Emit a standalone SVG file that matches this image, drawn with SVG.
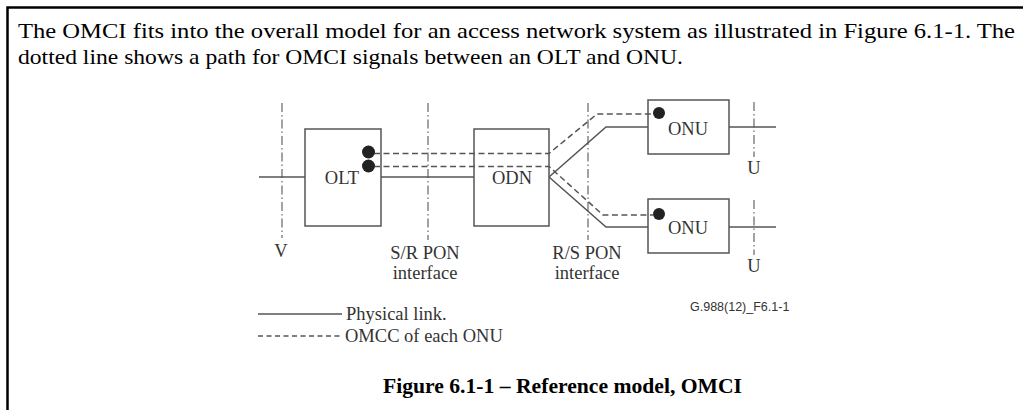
<svg xmlns="http://www.w3.org/2000/svg" width="1023" height="410" viewBox="0 0 1023 410">
<style>
.frame{fill:none;stroke:#000;stroke-width:2.5}
.para{font-family:"Liberation Serif",serif;font-size:21px;fill:#000}
.box{fill:#fff;stroke:#555;stroke-width:1.5}
.lbl{font-family:"Liberation Serif",serif;font-size:18.5px;fill:#333;text-anchor:middle}
.leg{font-family:"Liberation Serif",serif;font-size:18.5px;fill:#333}
.solid{fill:none;stroke:#555;stroke-width:1.5}
.dash{fill:none;stroke:#555;stroke-width:1.5;stroke-dasharray:6 3.5}
.dashdot{fill:none;stroke:#666;stroke-width:1.2;stroke-dasharray:9 3 1.5 3}
.dot{fill:#222}
.code{font-family:"Liberation Sans",sans-serif;font-size:12.5px;fill:#333}
.cap{font-family:"Liberation Serif",serif;font-size:21.5px;font-weight:bold;fill:#000}
</style>
<rect width="1023" height="410" fill="#fff"/>
<path class="frame" d="M1023,7.5 H7.5 V410"/>
<text class="para" x="18" y="38" textLength="997" lengthAdjust="spacingAndGlyphs">The OMCI fits into the overall model for an access network system as illustrated in Figure 6.1-1. The</text>
<text class="para" x="18" y="64" textLength="665" lengthAdjust="spacingAndGlyphs">dotted line shows a path for OMCI signals between an OLT and ONU.</text>

<g id="interfaces">
<line class="dashdot" x1="282" y1="103" x2="282" y2="238"/>
<line class="dashdot" x1="428" y1="103" x2="428" y2="240"/>
<line class="dashdot" x1="588" y1="103" x2="588" y2="240"/>
<line class="dashdot" x1="754" y1="102" x2="754" y2="157"/>
<line class="dashdot" x1="754" y1="200" x2="754" y2="255"/>
<text class="lbl" x="281" y="257">V</text>
<text class="lbl" x="425" y="259">S/R PON</text>
<text class="lbl" x="425" y="279">interface</text>
<text class="lbl" x="587" y="259">R/S PON</text>
<text class="lbl" x="587" y="279">interface</text>
<text class="lbl" x="754" y="174">U</text>
<text class="lbl" x="754" y="272">U</text>
</g>

<g id="connectors">
<polyline class="solid" points="259,177 305,177"/>
<polyline class="solid" points="381,177 474,177"/>
<polyline class="solid" points="549,177 606,127 648,127"/>
<polyline class="solid" points="549,177 606,227 648,227"/>
<polyline class="solid" points="729,127 776,127"/>
<polyline class="solid" points="729,227 776,227"/>
</g>

<g id="OLT">
<rect class="box" x="305" y="129" width="76" height="97"/>
<text class="lbl" x="342" y="184">OLT</text>
</g>
<g id="ODN">
<rect class="box" x="474" y="129" width="75" height="97"/>
<text class="lbl" x="512" y="184">ODN</text>
</g>
<g id="ONU1">
<rect class="box" x="648" y="100" width="81" height="54"/>
<text class="lbl" x="688" y="135">ONU</text>
</g>
<g id="ONU2">
<rect class="box" x="648" y="199" width="81" height="54"/>
<text class="lbl" x="688" y="234">ONU</text>
</g>

<g id="omcc">
<polyline class="dash" points="374,153.5 549,153.5 597,114 653,114"/>
<polyline class="dash" points="374,166.5 549,166.5 603,215 653,215"/>
<circle class="dot" cx="368.5" cy="152" r="6.5"/>
<circle class="dot" cx="368.5" cy="166" r="6.5"/>
<circle class="dot" cx="659" cy="113" r="6"/>
<circle class="dot" cx="659" cy="214" r="6"/>
</g>

<g id="legend">
<line class="solid" x1="258" y1="314" x2="342" y2="314"/>
<text class="leg" x="346" y="320">Physical link.</text>
<line class="dash" x1="258" y1="336" x2="343" y2="336" style="stroke-dasharray:5 3.5"/>
<text class="leg" x="345" y="342">OMCC of each ONU</text>
<text class="code" x="690" y="311">G.988(12)_F6.1-1</text>
</g>

<text class="cap" x="383" y="393" textLength="359" lengthAdjust="spacingAndGlyphs">Figure 6.1-1 – Reference model, OMCI</text>
</svg>
